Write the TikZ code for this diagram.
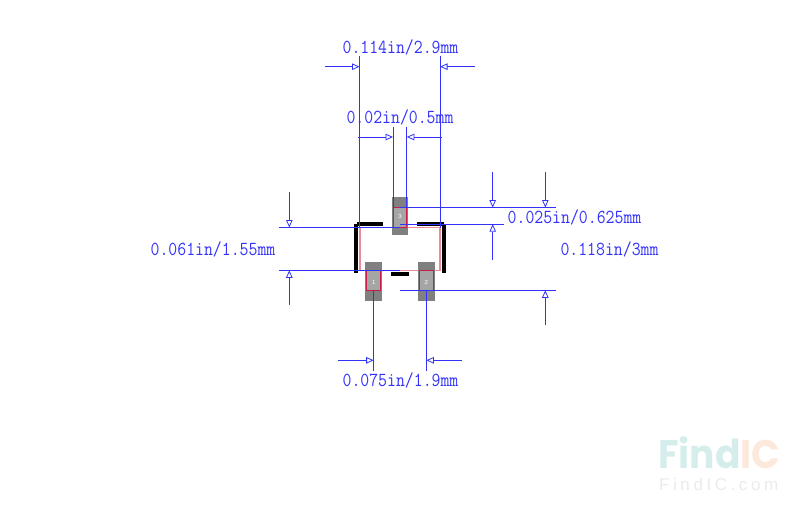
\documentclass[tikz,border=0pt]{standalone}
\usepackage{fontspec}
\newfontfamily\wmbold{Poppins Bold}
\newfontfamily\wmlight{Liberation Sans}
\newfontfamily\padfont{Liberation Sans}
\usetikzlibrary{arrows.meta}
\definecolor{dimblue}{RGB}{50,50,250}
\definecolor{padgray}{RGB}{128,128,128}
\definecolor{padlight}{RGB}{165,165,165}
\definecolor{padred}{RGB}{200,30,70}
\definecolor{bodypink}{RGB}{232,140,150}
\definecolor{wmteal}{RGB}{214,238,235}
\definecolor{wmorange}{RGB}{253,232,220}
\definecolor{wmgray}{RGB}{235,235,235}
\newcommand{\dimtxt}[1]{\scalebox{1}[1.15]{#1}}
\tikzset{
  x=1pt,y=-1pt,
  dimline/.style={draw=dimblue,line width=0.9pt},
  dimarrow/.style={dimline,-{Triangle[open,length=7.5pt,width=6.5pt,line width=0.8pt]}},
  dimtext/.style={text=dimblue,font=\ttfamily\fontsize{17.3}{18}\selectfont,inner sep=0pt,anchor=center},
  padouter/.style={fill=padgray,draw=none},
  padinner/.style={fill=padlight,draw=padred,line width=1pt},
  silk/.style={fill=black,draw=none},
  padnum/.style={text=white,font=\padfont\fontsize{6}{6}\selectfont,inner sep=0pt},
}
\begin{document}
\begin{tikzpicture}
\useasboundingbox (0,0) rectangle (800,511);
% watermark
\node[inner sep=0pt,anchor=base west,font=\wmbold\fontsize{38}{38}\selectfont] (wmA) at (658,468.5) {\scalebox{0.99}[1.05]{\textcolor{wmteal}{Find}\textcolor{wmorange}{IC}}};
\node[inner sep=0pt,anchor=base west,text=wmgray,font=\wmlight\fontsize{17}{17}\selectfont\addfontfeature{LetterSpace=21}] (wmB) at (659,490) {FindIC.com};
% body
\draw[bodypink,line width=1.2pt] (360,227.5) rectangle (440,270.3);
% pads
\fill[padouter] (392,197) rectangle (408,235);
\fill[padouter] (365.3,262.3) rectangle (382,300.7);
\fill[padouter] (418,262.3) rectangle (434.7,300.7);
\draw[padinner] (393.3,207.5) rectangle (406.7,227.5);
\draw[padinner] (366.7,270.3) rectangle (380.7,290.3);
\draw[padinner] (419.3,270.3) rectangle (433.3,290.3);
\node[padnum] (p3) at (400,216.5) {3};
\node[padnum] (p1) at (373.7,282.5) {1};
\node[padnum] (p2) at (426.3,282.5) {2};
% silkscreen
\fill[silk] (356.7,221.7) rectangle (383.3,225.7);
\fill[silk] (417,221.7) rectangle (443.5,225.7);
\fill[silk] (354.3,224) rectangle (358.3,273.3);
\fill[silk] (441.7,224) rectangle (445.7,273.3);
\fill[silk] (390.7,272) rectangle (409.3,275.7);
% anchors of the dimension lines
\coordinate (a1) at (359.5,56); \coordinate (a2) at (359.5,227.5);
\coordinate (b1) at (440,56);   \coordinate (b2) at (440,227.5);
\coordinate (c0) at (325,66.7); \coordinate (c1) at (359.5,66.7);
\coordinate (d0) at (475,66.7); \coordinate (d1) at (440,66.7);
\coordinate (e1) at (393,126.5); \coordinate (e2) at (393,207.5);
\coordinate (f1) at (406.8,126.5); \coordinate (f2) at (406.8,207.5);
\coordinate (g0) at (358.3,137); \coordinate (g1) at (393,137);
\coordinate (h0) at (441.5,137); \coordinate (h1) at (406.8,137);
\draw[dimline] (a1) -- (a2);
\draw[dimline] (b1) -- (b2);
\draw[dimarrow] (c0) -- (c1);
\draw[dimarrow] (d0) -- (d1);
\draw[dimline] (e1) -- (e2);
\draw[dimline] (f1) -- (f2);
\draw[dimarrow] (g0) -- (g1);
\draw[dimarrow] (h0) -- (h1);
% right
\coordinate (i0) at (400,207.5); \coordinate (i1) at (556,207.5);
\coordinate (j0) at (400,224.2); \coordinate (j1) at (503.7,224.2);
\coordinate (k0) at (400,290.3); \coordinate (k1) at (556,290.3);
\draw[dimline] (i0) -- (i1);
\draw[dimline] (j0) -- (j1);
\draw[dimline] (k0) -- (k1);
\coordinate (l0) at (492.7,172); \coordinate (l1) at (492.7,207.5);
\coordinate (m0) at (492.7,259.7); \coordinate (m1) at (492.7,224.2);
\coordinate (n0) at (545.3,172); \coordinate (n1) at (545.3,207.5);
\coordinate (o0) at (545.3,325); \coordinate (o1) at (545.3,290.3);
\draw[dimarrow] (l0) -- (l1);
\draw[dimarrow] (m0) -- (m1);
\draw[dimarrow] (n0) -- (n1);
\draw[dimarrow] (o0) -- (o1);
% left
\coordinate (q0) at (279,227.5); \coordinate (q1) at (400,227.5);
\coordinate (r0) at (279,270.3); \coordinate (r1) at (400,270.3);
\coordinate (s0) at (289.3,192); \coordinate (s1) at (289.3,227.5);
\coordinate (t0) at (289.3,305); \coordinate (t1) at (289.3,270.3);
\draw[dimline] (q0) -- (q1);
\draw[dimline] (r0) -- (r1);
\draw[dimarrow] (s0) -- (s1);
\draw[dimarrow] (t0) -- (t1);
% bottom
\coordinate (u0) at (373.7,290.3); \coordinate (u1) at (373.7,370.7);
\coordinate (v0) at (426.3,290.3); \coordinate (v1) at (426.3,370.7);
\coordinate (w0) at (338,360.3); \coordinate (w1) at (373.7,360.3);
\coordinate (y0) at (461.5,360.3); \coordinate (y1) at (426.3,360.3);
\draw[dimline] (u0) -- (u1);
\draw[dimline] (v0) -- (v1);
\draw[dimarrow] (w0) -- (w1);
\draw[dimarrow] (y0) -- (y1);
% labels
\node[dimtext] (t114) at (400.5,47.5) {\dimtxt{0.114in/2.9mm}};
\node[dimtext] (t02) at (400,117.5) {\dimtxt{0.02in/0.5mm}};
\node[dimtext] (t025) at (574.5,217) {\dimtxt{0.025in/0.625mm}};
\node[dimtext] (t118) at (609.5,249.5) {\dimtxt{0.118in/3mm}};
\node[dimtext] (t061) at (213,249.5) {\dimtxt{0.061in/1.55mm}};
\node[dimtext] (t075) at (400.5,380.5) {\dimtxt{0.075in/1.9mm}};
\end{tikzpicture}
\end{document}
